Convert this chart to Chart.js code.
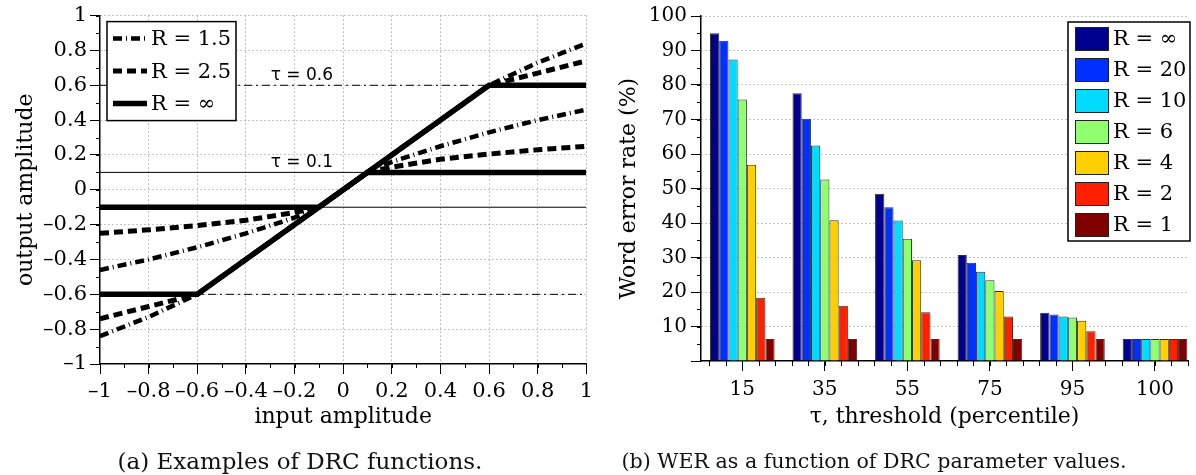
<!DOCTYPE html>
<html>
<head>
<meta charset="utf-8">
<script src="https://cdn.jsdelivr.net/npm/chart.js@4.4.1/dist/chart.umd.min.js"></script>
<style>
  body { margin: 0; background: #fff; width: 1196px; height: 475px; position: relative; overflow: hidden; }
  canvas { position: absolute; top: 0; }
  #drc { left: 0; }
  #wer { left: 598px; }
  .caption { position: absolute; top: 448px; font-family: 'DejaVu Serif', serif; white-space: nowrap; transform: translateX(-50%); color: #111; }
</style>
</head>
<body>
<canvas id="drc" width="598" height="475"></canvas>
<canvas id="wer" width="598" height="475"></canvas>
<div class="caption" style="left:300px; font-size:23px">(a) Examples of DRC functions.</div>
<div class="caption" style="left:874px; font-size:20.6px; top:449px">(b) WER as a function of DRC parameter values.</div>
<script>
// (a) DRC curves
const inX_t06 = [-1, -0.8, -0.6, 0.6, 0.8, 1];
const outR15_t06 = [-0.84, -0.73, -0.6, 0.6, 0.73, 0.84];
const outR25_t06 = [-0.74, -0.67, -0.6, 0.6, 0.67, 0.74];
const outRinf_t06 = [-0.6, -0.6, -0.6, 0.6, 0.6, 0.6];

const inX_t01 = [-1, -0.8, -0.6, -0.4, -0.2, -0.1, 0.1, 0.2, 0.4, 0.6, 0.8, 1];
const outR15_t01 = [-0.46, -0.40, -0.33, -0.25, -0.16, -0.1, 0.1, 0.16, 0.25, 0.33, 0.40, 0.46];
const outR25_t01 = [-0.25, -0.23, -0.205, -0.175, -0.13, -0.1, 0.1, 0.13, 0.175, 0.205, 0.23, 0.25];
const outRinf_t01 = [-0.1, -0.1, -0.1, -0.1, -0.1, -0.1, 0.1, 0.1, 0.1, 0.1, 0.1, 0.1];

const tauLevels = [0.6, 0.1];
const inputRange = [-1, 1];
const ratioNames = ['R = 1.5', 'R = 2.5', 'R = \u221e'];

// (b) word error rate per threshold percentile
const tauPercentiles = ['15', '35', '55', '75', '95', '100'];
const werNames = ['R = \u221e', 'R = 20', 'R = 10', 'R = 6', 'R = 4', 'R = 2', 'R = 1'];
const werRinf = [95.0, 77.6, 48.5, 30.7, 14.0, 6.4];
const werR20  = [92.8, 70.2, 44.6, 28.5, 13.5, 6.4];
const werR10  = [87.4, 62.5, 40.7, 25.9, 12.9, 6.4];
const werR6   = [75.8, 52.6, 35.4, 23.4, 12.6, 6.4];
const werR4   = [56.9, 40.8, 29.2, 20.3, 11.7, 6.4];
const werR2   = [18.3, 16.0, 14.1, 12.9, 8.6, 6.4];
const werR1   = [6.4, 6.4, 6.4, 6.4, 6.4, 6.4];

Chart.defaults.font.family = "'DejaVu Serif', serif";
Chart.defaults.color = '#000';

const CLEAR = 'rgba(0,0,0,0)';
const GRID = '#8a8a8a';
const fmt = v => {
  const r = Math.round(v * 10) / 10;
  return r === 0 ? '0' : String(r).replace('-', '\u2013');
};

// short outward ticks between the labelled ones
const minorTicks = {
  id: 'minorTicks',
  afterDraw(chart, args, opts) {
    const ctx = chart.ctx;
    ctx.save();
    ctx.strokeStyle = '#000';
    ctx.lineWidth = 1;
    ['x', 'y'].forEach(id => {
      const s = chart.scales[id];
      const step = opts[id + 'Step'];
      const len = opts[id + 'Len'];
      const n0 = Math.ceil(s.min / step - 1e-6), n1 = Math.floor(s.max / step + 1e-6);
      for (let n = n0; n <= n1; n++) {
        const p = Math.round(s.getPixelForValue(n * step)) + 0.5;
        ctx.beginPath();
        if (id === 'x') { ctx.moveTo(p, s.top); ctx.lineTo(p, s.top + len); }
        else { ctx.moveTo(s.right, p); ctx.lineTo(s.right - len, p); }
        ctx.stroke();
      }
    });
    ctx.restore();
  }
};

// boxed legend inside the plot
const frameLegend = {
  id: 'frameLegend',
  afterDraw(chart, args, o) {
    const { ctx, chartArea: a } = chart;
    const sets = chart.data.datasets.slice(0, o.count);
    const x0 = o.align === 'right' ? a.right + o.dx - o.width : a.left + o.dx;
    const y0 = a.top + o.dy;
    ctx.save();
    ctx.fillStyle = '#fff';
    ctx.fillRect(x0, y0, o.width, o.height);
    ctx.strokeStyle = '#000';
    ctx.lineWidth = 1.5;
    ctx.strokeRect(x0, y0, o.width, o.height);
    ctx.font = o.fontSize + "px 'DejaVu Serif'";
    ctx.textBaseline = 'middle';
    ctx.textAlign = 'left';
    sets.forEach((ds, i) => {
      const cy = y0 + o.first + i * o.pitch;
      if (o.kind === 'line') {
        ctx.strokeStyle = ds.borderColor;
        ctx.lineWidth = ds.borderWidth;
        ctx.lineCap = 'butt';
        ctx.setLineDash(ds.borderDash);
        ctx.beginPath();
        ctx.moveTo(x0 + o.sx, cy);
        ctx.lineTo(x0 + o.sx + o.sw, cy);
        ctx.stroke();
        ctx.setLineDash([]);
      } else {
        ctx.fillStyle = ds.backgroundColor;
        ctx.fillRect(x0 + o.sx, cy - o.sh / 2, o.sw, o.sh);
        ctx.strokeStyle = '#222';
        ctx.lineWidth = 1;
        ctx.strokeRect(x0 + o.sx + 0.5, cy - o.sh / 2 + 0.5, o.sw - 1, o.sh - 1);
      }
      ctx.fillStyle = '#000';
      ctx.fillText(ds.label, x0 + o.tx, cy + 1);
    });
    ctx.restore();
  }
};

// "tau = ..." notes above the threshold lines
const tauNotes = {
  id: 'tauNotes',
  afterDatasetsDraw(chart, args, o) {
    const { ctx, scales: { x, y } } = chart;
    ctx.save();
    ctx.font = "17px 'DejaVu Sans'";
    ctx.fillStyle = '#000';
    ctx.textAlign = 'center';
    ctx.textBaseline = 'alphabetic';
    tauLevels.forEach(t => {
      ctx.fillText('\u03c4 = ' + t, x.getPixelForValue(o.at), y.getPixelForValue(t) - 5);
    });
    ctx.restore();
  }
};

// ---- chart (a) ----
const lineStyles = [
  { borderWidth: 4.5, borderDash: [9, 4, 1, 4] },
  { borderWidth: 5, borderDash: [9, 5] },
  { borderWidth: 5.5, borderDash: [] }
];
const zip = (xs, ys) => xs.map((x, i) => ({ x, y: ys[i] }));
const drcSets = [];
[[inX_t06, [outR15_t06, outR25_t06, outRinf_t06]],
 [inX_t01, [outR15_t01, outR25_t01, outRinf_t01]]].forEach(([xs, curves]) => {
  curves.forEach((ys, k) => drcSets.push({
    label: ratioNames[k],
    data: zip(xs, ys),
    borderColor: '#000',
    borderWidth: lineStyles[k].borderWidth,
    borderDash: lineStyles[k].borderDash,
    borderCapStyle: 'butt',
    borderJoinStyle: 'miter',
    pointRadius: 0,
    tension: 0,
    fill: false,
    order: 3 - k
  }));
});
tauLevels.forEach(t => [t, -t].forEach(v => drcSets.push({
  data: inputRange.map(x => ({ x, y: v })),
  borderColor: '#000',
  borderWidth: 1,
  borderDash: t > 0.3 ? [8, 4, 2, 4] : [],
  pointRadius: 0,
  fill: false,
  order: 6
})));

new Chart(document.getElementById('drc'), {
  type: 'line',
  data: { datasets: drcSets },
  options: {
    responsive: false,
    animation: false,
    events: [],
    layout: { padding: { top: 14, right: 10, left: 0, bottom: 0 } },
    scales: {
      x: {
        type: 'linear', min: -1, max: 1,
        afterFit: s => { s.height = 111; },
        ticks: { stepSize: 0.2, callback: fmt, font: { size: 21 }, padding: 5, maxRotation: 0, autoSkip: false },
        grid: { color: c => c.tick && c.tick.value < -0.99 ? CLEAR : GRID, tickColor: '#000', tickLength: 10, tickWidth: 1 },
        border: { color: '#000', width: 1.5, dash: [1, 3] },
        title: { display: true, text: 'input amplitude', font: { size: 22 }, padding: { top: 0, bottom: 45 } }
      },
      y: {
        min: -1, max: 1,
        afterFit: s => { s.width = 100; },
        ticks: { stepSize: 0.2, callback: fmt, font: { size: 21 }, padding: 3 },
        grid: { color: c => c.tick && c.tick.value < -0.99 ? CLEAR : GRID, tickColor: '#000', tickLength: 10, tickWidth: 1 },
        border: { color: '#000', width: 1.5, dash: [1, 3] },
        title: { display: true, text: 'output amplitude', font: { size: 22 }, padding: { top: 13, bottom: 0 } }
      }
    },
    plugins: {
      legend: { display: false },
      tooltip: { enabled: false },
      minorTicks: { xStep: 0.1, xLen: 4, yStep: 0.1, yLen: 4 },
      tauNotes: { at: -0.17 },
      frameLegend: { count: 3, kind: 'line', align: 'left', dx: 7, dy: 6, width: 129, height: 99,
                     first: 17, pitch: 32.5, sx: 6, sw: 34, sh: 0, tx: 44, fontSize: 21 }
    }
  },
  plugins: [minorTicks, tauNotes, frameLegend]
});

// ---- chart (b) ----
const werSeries = [werRinf, werR20, werR10, werR6, werR4, werR2, werR1];
const werColors = ['#00008f', '#0030ff', '#00dcff', '#8fff70', '#ffcf00', '#ff2000', '#800000'];

new Chart(document.getElementById('wer'), {
  type: 'bar',
  data: {
    labels: tauPercentiles.map((_, i) => i + 1),
    datasets: werSeries.map((d, i) => ({
      label: werNames[i],
      data: d,
      backgroundColor: werColors[i],
      borderColor: '#333',
      borderWidth: 1,
      categoryPercentage: 0.783,
      barPercentage: 1
    }))
  },
  options: {
    responsive: false,
    animation: false,
    events: [],
    layout: { padding: { top: 14, right: 8, left: 0, bottom: 0 } },
    scales: {
      x: {
        type: 'linear', min: 0.5, max: 6.4, offset: false,
        afterBuildTicks: s => { s.ticks = tauPercentiles.map((_, i) => ({ value: i + 1 })); },
        afterFit: s => { s.height = 114; },
        ticks: { callback: v => tauPercentiles[v - 1], font: { size: 20 }, padding: 7, maxRotation: 0, autoSkip: false },
        grid: { offset: false, drawOnChartArea: false, tickColor: '#000', tickLength: 10, tickWidth: 1 },
        border: { color: '#000', width: 1.5 },
        title: { display: true, text: '\u03c4, threshold (percentile)', font: { size: 22 }, padding: { top: 0, bottom: 45 } }
      },
      y: {
        min: 0, max: 100,
        afterFit: s => { s.width = 103; },
        ticks: { stepSize: 10, callback: v => (v === 0 ? '' : v), font: { size: 20 }, padding: 4 },
        grid: { color: c => c.tick && c.tick.value === 0 ? CLEAR : GRID, tickColor: '#000', tickLength: 10, tickWidth: 1 },
        border: { color: '#000', width: 1.5, dash: [1, 3] },
        title: { display: true, text: 'Word error rate (%)', font: { size: 22 }, padding: { top: 18, bottom: 0 } }
      }
    },
    plugins: {
      legend: { display: false },
      tooltip: { enabled: false },
      minorTicks: { xStep: 0.2, xLen: 5, yStep: 5, yLen: 4 },
      frameLegend: { count: 7, kind: 'box', align: 'right', dx: 2, dy: 6, width: 122, height: 219,
                     first: 17, pitch: 31, sx: 7, sw: 34, sh: 24, tx: 45, fontSize: 21 }
    }
  },
  plugins: [minorTicks, frameLegend]
});
</script>
</body>
</html>
